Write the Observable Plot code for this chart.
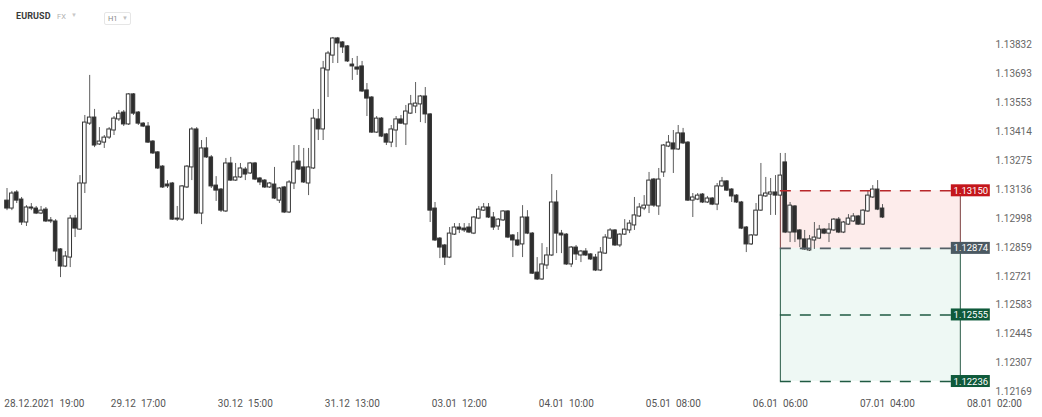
<!DOCTYPE html>
<html>
<head>
<meta charset="utf-8">
<script src="https://cdn.jsdelivr.net/npm/d3@7"></script>
<script src="https://cdn.jsdelivr.net/npm/@observablehq/plot@0.6"></script>
<style>
  html, body { margin: 0; padding: 0; background: #fff; }
  #wrap { position: relative; width: 1042px; height: 417px; font-family: Roboto, "Noto Sans", sans-serif; }
  #header { position: absolute; left: 0; top: 0; height: 30px; width: 300px; }
  .sym { position: absolute; left: 16px; top: 11px; font-size: 9px; font-weight: 700; color: #3b3b3b; letter-spacing: 0.1px; }
  .mkt { position: absolute; left: 57px; top: 12px; font-size: 7.5px; color: #b0b0b0; }
  .tri { position: absolute; left: 71px; top: 11px; font-size: 6px; color: #c8c8c8; }
  .tf { position: absolute; left: 104px; top: 12px; width: 27px; height: 13px; border: 1px solid #e6e6e6; border-radius: 2px; box-sizing: border-box; }
  .tf span.t { position: absolute; left: 3px; top: 1px; font-size: 7.5px; color: #8a8a8a; }
  .tf span.a { position: absolute; left: 17px; top: 1px; font-size: 6px; color: #c0c0c0; }
</style>
</head>
<body>
<div id="wrap">
  <div id="chart"></div>
  <div id="header">
    <span class="sym">EURUSD</span>
    <span class="mkt">FX</span>
    <span class="tri">&#9660;</span>
    <div class="tf"><span class="t">H1</span><span class="a">&#9660;</span></div>
  </div>
</div>
<script>
// ---- data (hourly EURUSD candles, index 0 = 28.12 14:00) ----
const open = [
1.13103,1.13065,1.13142,1.13108,1.12998,1.13070,1.13065,1.13041,1.13060,1.13008,
1.13003,1.12869,1.12787,1.12830,1.13017,1.12964,1.13185,1.13472,1.13501,1.13372,
1.13381,1.13405,1.13439,1.13492,1.13525,1.13468,1.13612,1.13525,1.13472,1.13458,
1.13386,1.13334,1.13266,1.13180,1.13185,1.13017,1.13012,1.13166,1.13262,1.13444,
1.13041,1.13353,1.13310,1.13175,1.13156,1.13051,1.13281,1.13199,1.13214,1.13252,
1.13233,1.13281,1.13209,1.13199,1.13166,1.13180,1.13103,1.13166,1.13046,1.13185,
1.13290,1.13262,1.13185,1.13257,1.13492,1.13444,1.13727,1.13798,1.13880,1.13861,
1.13842,1.13755,1.13741,1.13746,1.13631,1.13597,1.13429,1.13496,1.13420,1.13381,
1.13439,1.13492,1.13468,1.13520,1.13554,1.13564,1.13602,1.13516,1.13065,1.12921,
1.12888,1.12830,1.12940,1.12974,1.12969,1.12974,1.12945,1.13017,1.13055,1.13070,
1.13022,1.12979,1.13008,1.13051,1.12936,1.12912,1.12893,1.13022,1.12945,1.12758,
1.12725,1.12792,1.12840,1.13094,1.12945,1.12940,1.12797,1.12878,1.12840,1.12859,
1.12845,1.12830,1.12768,1.12849,1.12921,1.12960,1.12888,1.12940,1.12960,1.12984,
1.13027,1.13065,1.13079,1.13204,1.13075,1.13238,1.13362,1.13377,1.13348,1.13425,
1.13381,1.13103,1.13108,1.13132,1.13094,1.13113,1.13084,1.13171,1.13195,1.13156,
1.13127,1.13094,1.12974,1.12893,1.12936,1.13055,1.13123,1.13132,1.13142,1.13127,
1.13286,1.12950,1.13075,1.12960,1.12917,1.12864,1.12912,1.12921,1.12964,1.12945,
1.12960,1.13012,1.12950,1.12988,1.13003,1.13027,1.12988,1.13051,1.13118,1.13156,1.13065
];
const high = [
1.13161,1.13147,1.13151,1.13118,1.13079,1.13089,1.13075,1.13075,1.13070,1.13022,
1.13012,1.12873,1.12859,1.13032,1.13032,1.13223,1.13511,1.13703,1.13540,1.13453,
1.13415,1.13453,1.13506,1.13535,1.13535,1.13616,1.13616,1.13530,1.13477,1.13477,
1.13391,1.13338,1.13271,1.13199,1.13190,1.13075,1.13175,1.13271,1.13453,1.13453,
1.13391,1.13405,1.13319,1.13218,1.13161,1.13305,1.13310,1.13281,1.13281,1.13262,
1.13286,1.13286,1.13214,1.13204,1.13190,1.13262,1.13166,1.13171,1.13199,1.13367,
1.13367,1.13353,1.13353,1.13540,1.13540,1.13770,1.13818,1.13885,1.13885,1.13865,
1.13846,1.13784,1.13794,1.13770,1.13664,1.13602,1.13506,1.13501,1.13425,1.13463,
1.13506,1.13511,1.13559,1.13607,1.13669,1.13607,1.13645,1.13520,1.13094,1.12926,
1.12893,1.12974,1.12993,1.12993,1.12993,1.12993,1.13027,1.13075,1.13089,1.13089,
1.13046,1.13017,1.13055,1.13055,1.12940,1.12950,1.13079,1.13055,1.12950,1.12830,
1.12897,1.12878,1.13228,1.13151,1.12960,1.12945,1.12883,1.12888,1.12864,1.12873,
1.12849,1.12845,1.12878,1.12940,1.12969,1.12964,1.12945,1.13012,1.13008,1.13118,
1.13089,1.13127,1.13238,1.13209,1.13257,1.13372,1.13415,1.13439,1.13463,1.13449,
1.13386,1.13137,1.13137,1.13137,1.13123,1.13118,1.13185,1.13214,1.13199,1.13161,
1.13132,1.13099,1.12979,1.12940,1.13089,1.13281,1.13214,1.13209,1.13223,1.13329,
1.13329,1.13094,1.13079,1.12964,1.12960,1.12936,1.12998,1.12984,1.12969,1.12993,
1.13017,1.13022,1.13003,1.13036,1.13041,1.13032,1.13060,1.13151,1.13175,1.13199,1.13084
];
const low = [
1.13055,1.13055,1.13089,1.12984,1.12979,1.13055,1.13036,1.13036,1.12998,1.12993,
1.12811,1.12734,1.12782,1.12782,1.12926,1.12960,1.13137,1.13463,1.13357,1.13367,
1.13353,1.13396,1.13415,1.13482,1.13458,1.13463,1.13511,1.13463,1.13453,1.13377,
1.13324,1.13252,1.13161,1.13161,1.13008,1.13003,1.13003,1.13161,1.13199,1.13036,
1.12988,1.13305,1.13161,1.13099,1.13046,1.13046,1.13195,1.13195,1.13209,1.13199,
1.13228,1.13199,1.13175,1.13161,1.13161,1.13108,1.13089,1.13041,1.13041,1.13156,
1.13247,1.13185,1.13127,1.13252,1.13391,1.13391,1.13597,1.13760,1.13760,1.13808,
1.13765,1.13679,1.13703,1.13621,1.13506,1.13425,1.13425,1.13405,1.13367,1.13357,
1.13357,1.13468,1.13367,1.13516,1.13520,1.13477,1.13472,1.12998,1.12907,1.12825,
1.12792,1.12825,1.12936,1.12945,1.12950,1.12945,1.12940,1.13012,1.13051,1.13017,
1.12960,1.12960,1.13003,1.12921,1.12830,1.12883,1.12830,1.12940,1.12749,1.12720,
1.12720,1.12773,1.12835,1.12849,1.12849,1.12792,1.12782,1.12816,1.12806,1.12835,
1.12816,1.12763,1.12763,1.12845,1.12917,1.12883,1.12878,1.12936,1.12945,1.12960,
1.13022,1.13055,1.13041,1.13070,1.13032,1.13214,1.13357,1.13233,1.13343,1.13372,
1.13099,1.13022,1.13103,1.13089,1.13089,1.13079,1.13055,1.13166,1.13147,1.13094,
1.13089,1.12964,1.12854,1.12888,1.12931,1.13051,1.13118,1.13032,1.13032,1.13123,
1.12945,1.12902,1.12902,1.12878,1.12864,1.12859,1.12869,1.12917,1.12940,1.12902,
1.12955,1.12945,1.12945,1.12984,1.12998,1.12984,1.12984,1.13046,1.13113,1.13055,1.13017
];
const close = [
1.13065,1.13137,1.13103,1.12998,1.13070,1.13065,1.13041,1.13055,1.13003,1.13003,
1.12859,1.12787,1.12835,1.13017,1.12969,1.13185,1.13477,1.13501,1.13367,1.13386,
1.13405,1.13444,1.13496,1.13520,1.13468,1.13612,1.13520,1.13472,1.13458,1.13381,
1.13329,1.13257,1.13166,1.13171,1.13012,1.13012,1.13171,1.13266,1.13444,1.13041,
1.13353,1.13310,1.13171,1.13151,1.13055,1.13281,1.13199,1.13214,1.13257,1.13228,
1.13281,1.13204,1.13190,1.13166,1.13185,1.13113,1.13161,1.13046,1.13190,1.13286,
1.13252,1.13190,1.13262,1.13496,1.13444,1.13736,1.13808,1.13880,1.13856,1.13837,
1.13770,1.13746,1.13731,1.13626,1.13592,1.13429,1.13496,1.13410,1.13381,1.13444,
1.13492,1.13472,1.13530,1.13564,1.13568,1.13602,1.13516,1.13055,1.12912,1.12878,
1.12830,1.12945,1.12974,1.12964,1.12960,1.12950,1.13022,1.13060,1.13070,1.13022,
1.12974,1.13012,1.13051,1.12926,1.12912,1.12888,1.13022,1.12945,1.12753,1.12725,
1.12797,1.12840,1.13094,1.12945,1.12936,1.12797,1.12878,1.12845,1.12859,1.12840,
1.12821,1.12768,1.12854,1.12926,1.12960,1.12888,1.12940,1.12964,1.12993,1.13032,
1.13070,1.13079,1.13199,1.13079,1.13204,1.13367,1.13381,1.13348,1.13425,1.13377,
1.13103,1.13118,1.13127,1.13094,1.13113,1.13084,1.13171,1.13195,1.13151,1.13123,
1.13094,1.12969,1.12893,1.12936,1.13055,1.13127,1.13137,1.13142,1.13127,1.13223,
1.12950,1.13079,1.12950,1.12917,1.12869,1.12917,1.12926,1.12964,1.12945,1.12964,
1.13012,1.12950,1.12998,1.13017,1.13027,1.12988,1.13055,1.13127,1.13156,1.13060,1.13022
];

// x-axis tick labels (hourly candle index where each falls)
const xTickLabels = ["28.12.2021\u00a0\u00a019:00", "29.12\u00a0\u00a017:00", "30.12\u00a0\u00a015:00", "31.12\u00a0\u00a013:00", "03.01\u00a0\u00a012:00", "04.01\u00a0\u00a010:00", "05.01\u00a0\u00a008:00", "06.01\u00a0\u00a006:00", "07.01\u00a0\u00a004:00", "08.01\u00a0\u00a002:00"];
const xTickIndex = [5, 27, 49, 71, 93, 115, 137, 159, 181, 203];

// y-axis tick labels
const yTicks = [1.13832, 1.13693, 1.13553, 1.13414, 1.13275, 1.13136, 1.12998, 1.12859, 1.12721, 1.12583, 1.12445, 1.12307, 1.12169];

// trade setup annotation
const zoneStartIndex = 159;   // 06.01 06:00
const zoneEndIndex = 196;
const levelNames = ["stop", "entry", "tp1", "tp2"];
const levelPrices = [1.13150, 1.12874, 1.12555, 1.12236];

// ---- styles ----
const levelColor = { stop: "#c4161c", entry: "#4b5962", tp1: "#0f5a3b", tp2: "#0f5a3b" };
const lineColor = { stop: "#b8282b", entry: "#555f66", tp1: "#1f5a42", tp2: "#1f5a42" };
const bearFill = "#2e2e2e";

// ---- build tables ----
const candles = open.map((o, i) => ({ i, open: o, high: high[i], low: low[i], close: close[i], up: close[i] >= o }));
const xTicks = xTickIndex.map((idx, k) => ({ idx, label: xTickLabels[k] }));
const levels = levelNames.map((name, k) => ({ name, price: levelPrices[k], label: levelPrices[k].toFixed(5), color: levelColor[name], line: lineColor[name] }));

const chart = Plot.plot({
  width: 1042,
  height: 417,
  marginLeft: 0,
  marginRight: 52,
  marginTop: 0,
  marginBottom: 11,
  x: { type: "linear", domain: [0, 180], range: [6.5, 882.0], axis: null },
  y: { domain: [1.12169, 1.13832], range: [395, 48], axis: null },
  style: { fontFamily: "Roboto, 'Noto Sans', sans-serif", background: "white" },
  marks: [
    // zones
    Plot.rect([0], { x1: zoneStartIndex, x2: zoneEndIndex, y1: levelPrices[0], y2: levelPrices[1], fill: "#fdeceb" }),
    Plot.rect([0], { x1: zoneStartIndex, x2: zoneEndIndex, y1: levelPrices[1], y2: levelPrices[3], fill: "#eef8f4" }),
    // zone side borders
    Plot.ruleX([zoneStartIndex, zoneEndIndex], { x: d => d, y1: levelPrices[0], y2: levelPrices[1], stroke: "#7a3b3b", strokeWidth: 1 }),
    Plot.ruleX([zoneStartIndex, zoneEndIndex], { x: d => d, y1: levelPrices[1], y2: levelPrices[3], stroke: "#285a45", strokeWidth: 1 }),
    // wicks
    Plot.ruleX(candles, { x: "i", y1: "low", y2: "high", stroke: "#5e5e5e", strokeWidth: 1 }),
    // bodies
    Plot.rect(candles, {
      x1: d => d.i - 0.37, x2: d => d.i + 0.37,
      y1: "open", y2: "close",
      fill: d => d.up ? "#ffffff" : bearFill,
      stroke: "#333333", strokeWidth: 1
    }),
    // level dashed lines
    Plot.ruleY(levels, { y: "price", x1: zoneStartIndex, x2: zoneEndIndex, stroke: "line", strokeWidth: 1.6, strokeDasharray: "11,9" }),
    // price tags
    Plot.rect(levels, { x1: zoneEndIndex, x2: zoneEndIndex, y1: "price", y2: "price", insetLeft: -9, insetRight: -30, insetTop: -6, insetBottom: -6, fill: "color" }),
    Plot.text(levels, { x: zoneEndIndex, y: "price", text: "label", dx: 10.5, fill: "white", fontSize: 9.5 }),
    // y axis labels
    Plot.text(yTicks, { y: d => d, text: d => d.toFixed(5), frameAnchor: "right", textAnchor: "start", dx: 5, dy: -4, fill: "#666", fontSize: 10 }),
    // x axis labels (first one is shifted right so it stays inside the frame)
    Plot.text(xTicks.slice(0, 1), { x: "idx", text: "label", frameAnchor: "bottom", dx: 13, fill: "#555", fontSize: 10 }),
    Plot.text(xTicks.slice(1), { x: "idx", text: "label", frameAnchor: "bottom", fill: "#555", fontSize: 10 })
  ]
});
document.getElementById("chart").appendChild(chart);
</script>
</body>
</html>
